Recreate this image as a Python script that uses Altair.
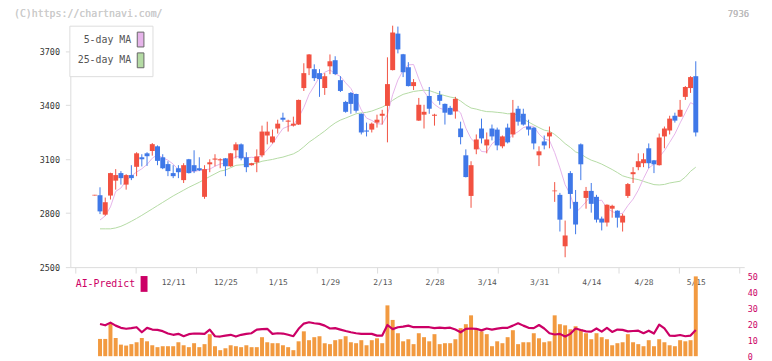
import altair as alt
import pandas as pd

# ---------------- data ----------------
OPEN = [2900, 2900, 2792, 2898, 2981, 3023, 2959, 3012, 3058, 3111, 3133, 3146, 3172, 3111, 3073, 3023,
        3050, 2984, 3100, 3067, 3050, 2891, 3072, 3098, 3094, 3105, 3061, 3150, 3183, 3111, 3067, 3083,
        3122, 3232, 3194, 3271, 3331, 3309, 3287, 3293, 3496, 3606, 3601, 3579, 3496, 3617, 3651, 3540,
        3419, 3469, 3463, 3353, 3260, 3265, 3304, 3342, 3397, 3596, 3799, 3684, 3612, 3507, 3315, 3348,
        3452, 3342, 3458, 3408, 3386, 3366, 3271, 3122, 2896, 3155, 3271, 3177, 3271, 3265, 3172, 3276,
        3238, 3381, 3353, 3282, 3276, 3122, 3199, 3227, 2922, 2902, 2616, 3023, 2863, 3183, 2885, 2924,
        2891, 2770, 2748, 2825, 2814, 2748, 2896, 3017, 3056, 3078, 3161, 3094, 3067, 3227, 3260, 3342,
        3337, 3447, 3496, 3562]
HIGH = [2902, 2944, 2887, 3025, 3045, 3034, 3017, 3067, 3139, 3128, 3139, 3190, 3177, 3128, 3089, 3067,
        3067, 3078, 3102, 3150, 3111, 3067, 3100, 3128, 3105, 3107, 3135, 3194, 3188, 3139, 3080, 3155,
        3287, 3309, 3265, 3320, 3359, 3320, 3337, 3432, 3634, 3685, 3628, 3601, 3579, 3683, 3673, 3562,
        3425, 3474, 3465, 3355, 3304, 3304, 3348, 3375, 3667, 3843, 3838, 3686, 3640, 3546, 3441, 3403,
        3502, 3353, 3480, 3410, 3397, 3447, 3309, 3155, 3089, 3238, 3326, 3249, 3293, 3276, 3232, 3298,
        3430, 3397, 3381, 3320, 3278, 3172, 3232, 3282, 2973, 2913, 2759, 3034, 2929, 3188, 2946, 2968,
        2902, 2781, 2849, 2847, 2816, 2797, 2968, 3056, 3133, 3133, 3188, 3096, 3243, 3282, 3342, 3359,
        3430, 3507, 3562, 3645]
LOW = [2898, 2795, 2786, 2876, 2931, 2959, 2931, 2984, 3006, 3060, 3063, 3120, 3067, 3045, 3006, 2995,
       2995, 2968, 3021, 3023, 3034, 2880, 3028, 3061, 3050, 3006, 3058, 3105, 3094, 3028, 3065, 3028,
       3111, 3183, 3188, 3243, 3309, 3254, 3282, 3291, 3480, 3568, 3535, 3447, 3458, 3573, 3568, 3474,
       3359, 3353, 3359, 3238, 3227, 3249, 3276, 3293, 3194, 3594, 3689, 3557, 3505, 3485, 3313, 3271,
       3353, 3287, 3403, 3293, 3346, 3326, 3183, 2999, 2830, 3128, 3188, 3133, 3205, 3150, 3161, 3188,
       3221, 3287, 3287, 3232, 3155, 3062, 3155, 3161, 2863, 2698, 2555, 2825, 2683, 2984, 2825, 2803,
       2748, 2704, 2726, 2775, 2720, 2698, 2885, 2968, 3039, 3056, 3050, 3023, 3065, 3161, 3238, 3304,
       3335, 3430, 3469, 3227]
CLOSE = [2900, 2810, 2861, 3023, 3012, 2995, 3012, 2995, 3133, 3100, 3117, 3184, 3091, 3050, 3034, 3006,
         3028, 3067, 3023, 3034, 3039, 3045, 3083, 3104, 3100, 3061, 3133, 3183, 3105, 3056, 3078, 3116,
         3254, 3254, 3227, 3298, 3320, 3315, 3298, 3430, 3579, 3683, 3551, 3546, 3562, 3645, 3574, 3480,
         3364, 3408, 3370, 3249, 3254, 3298, 3320, 3353, 3518, 3805, 3711, 3584, 3507, 3529, 3403, 3364,
         3381, 3348, 3425, 3359, 3348, 3436, 3223, 3001, 3067, 3210, 3216, 3210, 3227, 3177, 3227, 3194,
         3359, 3309, 3293, 3265, 3188, 3144, 3177, 3249, 2926, 2764, 2676, 2907, 2737, 3072, 2924, 2852,
         2764, 2748, 2847, 2841, 2775, 2786, 2962, 3028, 3089, 3100, 3078, 3072, 3221, 3271, 3326, 3315,
         3375, 3502, 3557, 3249]
MA5 = [None, 2762, 2785, 2835, 2921, 2940, 2981, 3007, 3029, 3047, 3071, 3106, 3125, 3108, 3095, 3073,
       3042, 3037, 3032, 3032, 3038, 3042, 3045, 3061, 3074, 3079, 3096, 3116, 3116, 3108, 3111, 3108,
       3122, 3152, 3186, 3230, 3271, 3283, 3292, 3332, 3388, 3461, 3508, 3558, 3584, 3597, 3576, 3561,
       3525, 3494, 3439, 3374, 3329, 3316, 3298, 3295, 3349, 3459, 3541, 3594, 3625, 3627, 3547, 3477,
       3437, 3405, 3384, 3375, 3372, 3383, 3358, 3273, 3215, 3187, 3143, 3141, 3186, 3208, 3211, 3207,
       3237, 3253, 3276, 3284, 3283, 3240, 3213, 3205, 3137, 3052, 2958, 2904, 2802, 2831, 2863, 2898,
       2870, 2872, 2827, 2810, 2795, 2799, 2842, 2878, 2928, 2993, 3051, 3073, 3112, 3148, 3194, 3241,
       3302, 3358, 3415, 3400]
MA25 = [None, 2713, 2713, 2713, 2718, 2727, 2740, 2755, 2771, 2788, 2806, 2824, 2842, 2860, 2878, 2896,
        2912, 2928, 2944, 2958, 2972, 2988, 3004, 3019, 3034, 3040, 3053, 3066, 3069, 3071, 3074, 3079,
        3089, 3094, 3099, 3106, 3112, 3121, 3130, 3146, 3169, 3195, 3215, 3236, 3257, 3281, 3302, 3318,
        3329, 3341, 3353, 3358, 3361, 3368, 3379, 3390, 3406, 3428, 3446, 3461, 3469, 3477, 3481, 3484,
        3482, 3472, 3462, 3454, 3446, 3441, 3424, 3402, 3385, 3379, 3371, 3365, 3364, 3361, 3358, 3353,
        3353, 3345, 3324, 3307, 3291, 3276, 3262, 3256, 3238, 3214, 3187, 3166, 3141, 3130, 3110, 3095,
        3085, 3073, 3058, 3043, 3026, 3008, 2999, 2992, 2987, 2977, 2968, 2959, 2957, 2960, 2968, 2973,
        2978, 3001, 3033, 3056]
VOLUME = [0, 10.9, 10.9, 20.4, 11.5, 7.3, 6.7, 7.6, 8.8, 11.5, 9.4, 6.9, 5.7, 6.3, 6.3, 6.3,
          8.8, 6.9, 5.7, 8.2, 5.7, 7.6, 13.9, 6.3, 3.8, 5.0, 6.9, 6.3, 5.7, 6.9, 5.7, 5.7,
          12.0, 8.8, 8.2, 8.2, 6.9, 5.7, 3.8, 9.4, 15.7, 10.1, 12.0, 12.6, 8.2, 7.6, 10.1, 10.7,
          12.6, 8.8, 8.2, 10.1, 6.9, 10.1, 11.3, 8.2, 32.1, 22.9, 14.5, 9.4, 10.7, 7.6, 14.5, 12.0,
          9.4, 13.9, 7.6, 8.2, 8.2, 10.7, 17.7, 20.2, 25.8, 17.7, 15.7, 13.9, 6.3, 9.4, 8.2, 12.0,
          16.4, 7.6, 8.8, 8.8, 14.5, 11.3, 8.8, 9.4, 25.8, 20.2, 19.5, 17.0, 18.9, 17.0, 14.5, 10.7,
          14.5, 12.0, 10.7, 6.9, 8.2, 8.8, 13.9, 8.8, 7.6, 6.3, 10.1, 6.3, 10.7, 8.8, 6.9, 6.3,
          10.1, 9.4, 10.1, 50.4]
AI_PREDICT = [None, 20.3, 19.5, 21.2, 19.3, 17.9, 17.3, 17.7, 18.3, 15.1, 17.9, 16.8, 16.6, 15.8, 14.3, 13.5,
              14.1, 12.6, 13.9, 14.3, 14.3, 14.1, 16.8, 12.6, 12.4, 13.0, 13.5, 12.4, 13.5, 14.1, 14.5, 16.8,
              17.1, 17.3, 14.1, 14.5, 14.3, 13.5, 12.6, 17.3, 20.6, 21.4, 20.8, 20.4, 19.3, 17.5, 17.7, 16.8,
              15.9, 15.1, 14.5, 14.1, 14.1, 14.1, 13.0, 13.0, 19.7, 17.1, 18.3, 18.7, 19.3, 18.3, 18.3, 18.3,
              18.3, 17.7, 18.0, 17.7, 18.0, 16.8, 15.1, 17.3, 17.5, 17.3, 16.3, 17.5, 16.8, 17.4, 17.9, 17.9,
              19.3, 20.8, 19.3, 17.9, 17.7, 19.7, 17.5, 14.5, 13.7, 14.1, 12.4, 14.1, 17.5, 16.5, 15.7, 15.5,
              17.5, 15.5, 17.9, 15.3, 16.8, 16.6, 15.7, 15.9, 16.1, 14.5, 16.1, 14.3, 19.9, 17.5, 13.0, 12.8,
              13.4, 12.6, 13.0, 16.6]
DATE_POS = [15, 25, 35, 45, 55, 65, 75, 85, 95, 105, 115]
DATE_LABELS = ["12/11", "12/25", "1/15", "1/29", "2/13", "2/28", "3/14", "3/31", "4/14", "4/28", "5/15"]
PRICE_TICKS = [2500, 2800, 3100, 3400, 3700]
VOL_TICKS = [0, 10, 20, 30, 40, 50]
MA_NAMES = ["5-day MA", "25-day MA"]
AI_NAME = ["AI-Predict"]

# ---------------- styling ----------------
MONO = "DejaVu Sans Mono"
RED, BLUE = "#f25141", "#3f78e8"
PINK, GREEN = "#e6b4ea", "#b4dba4"
MAGENTA, ORANGE = "#cc0066", "#f29a40"
AXIS_GRAY = "#dcdcdc"

W, H, PRICE_H = 681, 334, 244
X_DOMAIN = [-3.731, 123.32]
X_TICKS = [X_DOMAIN[0] + k * (X_DOMAIN[1] - X_DOMAIN[0]) / 11 for k in range(12)]

n = len(CLOSE)
idx = list(range(n))
candles = pd.DataFrame({"i": idx, "o": OPEN, "h": HIGH, "l": LOW, "c": CLOSE})
ma = pd.DataFrame({"i": idx, "ma5": MA5, "ma25": MA25}).dropna()
vol = pd.DataFrame({"i": idx, "v": VOLUME})
ai = pd.DataFrame({"i": idx, "ai": AI_PREDICT}).dropna()
ma_leg = pd.DataFrame({"name": MA_NAMES, "i": [0] * len(MA_NAMES), "p": [PRICE_TICKS[0]] * len(MA_NAMES)})
ai_leg = pd.DataFrame({"name": AI_NAME, "i": [0], "v": [0]})

x_scale = alt.Scale(domain=X_DOMAIN, nice=False, zero=False)
x_price = alt.X("i:Q", scale=x_scale, title=None,
                axis=alt.Axis(orient="bottom", offset=-(H - PRICE_H), values=X_TICKS, labels=False,
                              grid=False, domainColor=AXIS_GRAY, tickColor=AXIS_GRAY, tickSize=6))
label_expr = "[" + ",".join(f"'{s}'" for s in DATE_LABELS) + f"][round((datum.value - {DATE_POS[0]}) / 10)]"
x_vol = alt.X("i:Q", scale=x_scale, title=None,
              axis=alt.Axis(orient="top", offset=-264, values=DATE_POS, labelExpr=label_expr,
                            domain=False, ticks=False, tickSize=0, labelPadding=0, grid=False,
                            labelFont=MONO, labelFontSize=8, labelColor="#555555"))

price_scale = alt.Scale(domain=[2500, 3843], range=[PRICE_H, 0], nice=False, zero=False)


def yp(field):
    return alt.Y(f"{field}:Q", scale=price_scale, title=None,
                 axis=alt.Axis(orient="left", values=PRICE_TICKS, format="d", grid=False,
                               domainColor=AXIS_GRAY, tickColor=AXIS_GRAY, tickSize=5, labelPadding=6,
                               labelFont=MONO, labelFontSize=8.5, labelColor="#333333"))


vol_scale = alt.Scale(domain=[0, 50], range=[H, H - 80], nice=False)


def yv(field):
    return alt.Y(f"{field}:Q", scale=vol_scale, title=None,
                 axis=alt.Axis(orient="right", values=VOL_TICKS, grid=False, domain=False, ticks=False,
                               labelPadding=3, labelFont=MONO, labelFontSize=8.5, labelColor=MAGENTA))


updown = alt.condition("datum.c >= datum.o", alt.value(RED), alt.value(BLUE))

ma25_line = alt.Chart(ma).mark_line(color=GREEN, strokeWidth=1).encode(x=x_price, y=yp("ma25"))
ma5_line = alt.Chart(ma).mark_line(color=PINK, strokeWidth=1).encode(x=x_price, y=yp("ma5"))
wicks = alt.Chart(candles).mark_rule(strokeWidth=1).encode(x=x_price, y=yp("l"), y2="h", color=updown)
bodies = alt.Chart(candles).mark_bar(size=5).encode(x=x_price, y=yp("o"), y2="c", color=updown)
doji = alt.Chart(candles).transform_filter("datum.o == datum.c").mark_tick(
    orient="horizontal", size=5, thickness=1).encode(x=x_price, y=yp("c"), color=updown)

ma_legend = alt.Chart(ma_leg).mark_rect().encode(
    x=x_price, x2="i", y=yp("p"), y2="p",
    fill=alt.Fill("name:N", scale=alt.Scale(domain=MA_NAMES, range=[PINK, GREEN]),
                  legend=alt.Legend(orient="none", legendX=-1, legendY=0, title=None,
                                    symbolType="M-0.45,-1H0.45V1H-0.45Z", symbolSize=225,
                                    symbolStrokeColor="#666666", symbolStrokeWidth=1,
                                    labelFont=MONO, labelFontSize=10, labelColor="#555555",
                                    labelAlign="right", labelOffset={"expr": "-17.5"},
                                    symbolOffset=58, padding=6, strokeColor="#dddddd",
                                    fillColor="white", rowPadding=1, labelLimit=200)))

copyright_txt = alt.Chart(ma_leg).mark_text(
    text="(C)https://chartnavi.com/", align="left", baseline="middle", font=MONO, fontSize=10,
    color="#cccccc").encode(x=alt.value(-57), y=alt.value(-12))
code_txt = alt.Chart(ma_leg).mark_text(
    text="7936", align="right", baseline="middle", font=MONO, fontSize=9,
    color="#bbbbbb").encode(x=alt.value(686), y=alt.value(-12))

price_group = alt.layer(ma25_line, ma5_line, wicks, bodies, doji, ma_legend, copyright_txt, code_txt)

vol_bars = alt.Chart(vol).mark_bar(size=4, color=ORANGE).encode(x=x_vol, y=yv("v"))
ai_line = alt.Chart(ai).mark_line(color=MAGENTA, strokeWidth=2.2, strokeJoin="round").encode(
    x=x_vol, y=yv("ai"))
ai_legend = alt.Chart(ai_leg).mark_rect().encode(
    x=x_vol, x2="i", y=yv("v"), y2="v",
    fill=alt.Fill("name:N", scale=alt.Scale(domain=AI_NAME, range=[MAGENTA]),
                  legend=alt.Legend(orient="none", legendX=5, legendY=253, title=None,
                                    symbolType="M-0.4375,-1H0.4375V1H-0.4375Z", symbolSize=256,
                                    symbolStrokeWidth=0, labelFont=MONO, labelFontSize=10,
                                    labelColor=MAGENTA, labelAlign="right",
                                    labelOffset={"expr": "-17"}, symbolOffset=61.5, padding=0,
                                    labelLimit=200)))

vol_group = alt.layer(vol_bars, ai_line, ai_legend)

chart = alt.layer(price_group, vol_group).resolve_scale(
    y="independent", fill="independent").resolve_axis(x="independent").properties(
    width=W, height=H,
    padding={"left": 63, "top": 16, "right": 20, "bottom": 3},
    autosize=alt.AutoSizeParams(type="none"),
).configure_view(stroke=None)

chart.save("out.html", embed_options={"renderer": "svg", "actions": False})
